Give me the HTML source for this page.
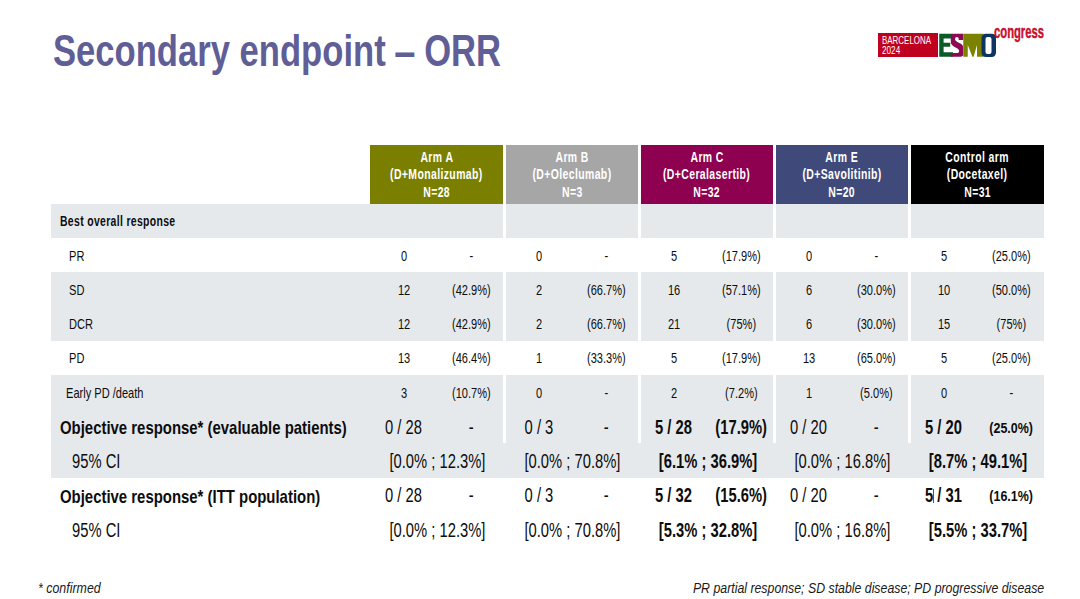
<!DOCTYPE html>
<html><head><meta charset="utf-8"><style>
html,body{margin:0;padding:0;}
body{width:1080px;height:599px;background:#fff;position:relative;overflow:hidden;font-family:"Liberation Sans", sans-serif;}
.t{position:absolute;white-space:nowrap;line-height:1;}
.t>span{display:inline-block;}
.r{position:absolute;}
</style></head><body>
<div class="r" style="left:51px;top:204.0px;width:992.6px;height:34.2px;background:#e6e9ec"></div>
<div class="r" style="left:51px;top:272.4px;width:992.6px;height:68.4px;background:#e6e9ec"></div>
<div class="r" style="left:51px;top:375.0px;width:992.6px;height:102.6px;background:#e6e9ec"></div>
<div class="r" style="left:503px;top:204.0px;width:2.5px;height:34.2px;background:#ffffff"></div>
<div class="r" style="left:638px;top:204.0px;width:2.5px;height:34.2px;background:#ffffff"></div>
<div class="r" style="left:773px;top:204.0px;width:2.5px;height:34.2px;background:#ffffff"></div>
<div class="r" style="left:908px;top:204.0px;width:2.5px;height:34.2px;background:#ffffff"></div>
<div class="r" style="left:503px;top:272.4px;width:2.5px;height:68.4px;background:#ffffff"></div>
<div class="r" style="left:638px;top:272.4px;width:2.5px;height:68.4px;background:#ffffff"></div>
<div class="r" style="left:773px;top:272.4px;width:2.5px;height:68.4px;background:#ffffff"></div>
<div class="r" style="left:908px;top:272.4px;width:2.5px;height:68.4px;background:#ffffff"></div>
<div class="r" style="left:503px;top:375.0px;width:2.5px;height:68.4px;background:#ffffff"></div>
<div class="r" style="left:638px;top:375.0px;width:2.5px;height:68.4px;background:#ffffff"></div>
<div class="r" style="left:773px;top:375.0px;width:2.5px;height:68.4px;background:#ffffff"></div>
<div class="r" style="left:908px;top:375.0px;width:2.5px;height:68.4px;background:#ffffff"></div>
<div class="r" style="left:370px;top:145px;width:133px;height:59px;background:#7a7f00"></div>
<div class="t" style="left:236.50px;width:400px;top:150.23px;font-size:14.5px;font-weight:bold;font-style:normal;color:#fff;text-align:center"><span style="transform:scaleX(0.72);transform-origin:center;letter-spacing:0.55px;margin-right:-0.55px">Arm A</span></div>
<div class="t" style="left:236.50px;width:400px;top:167.23px;font-size:14.5px;font-weight:bold;font-style:normal;color:#fff;text-align:center"><span style="transform:scaleX(0.72);transform-origin:center;letter-spacing:0.55px;margin-right:-0.55px">(D+Monalizumab)</span></div>
<div class="t" style="left:236.50px;width:400px;top:184.73px;font-size:14.5px;font-weight:bold;font-style:normal;color:#fff;text-align:center"><span style="transform:scaleX(0.72);transform-origin:center;letter-spacing:0.55px;margin-right:-0.55px">N=28</span></div>
<div class="r" style="left:505.5px;top:145px;width:132.5px;height:59px;background:#a6a6a6"></div>
<div class="t" style="left:371.75px;width:400px;top:150.23px;font-size:14.5px;font-weight:bold;font-style:normal;color:#fff;text-align:center"><span style="transform:scaleX(0.72);transform-origin:center;letter-spacing:0.55px;margin-right:-0.55px">Arm B</span></div>
<div class="t" style="left:371.75px;width:400px;top:167.23px;font-size:14.5px;font-weight:bold;font-style:normal;color:#fff;text-align:center"><span style="transform:scaleX(0.72);transform-origin:center;letter-spacing:0.55px;margin-right:-0.55px">(D+Oleclumab)</span></div>
<div class="t" style="left:371.75px;width:400px;top:184.73px;font-size:14.5px;font-weight:bold;font-style:normal;color:#fff;text-align:center"><span style="transform:scaleX(0.72);transform-origin:center;letter-spacing:0.55px;margin-right:-0.55px">N=3</span></div>
<div class="r" style="left:640.5px;top:145px;width:132.5px;height:59px;background:#8e0050"></div>
<div class="t" style="left:506.75px;width:400px;top:150.23px;font-size:14.5px;font-weight:bold;font-style:normal;color:#fff;text-align:center"><span style="transform:scaleX(0.72);transform-origin:center;letter-spacing:0.55px;margin-right:-0.55px">Arm C</span></div>
<div class="t" style="left:506.75px;width:400px;top:167.23px;font-size:14.5px;font-weight:bold;font-style:normal;color:#fff;text-align:center"><span style="transform:scaleX(0.72);transform-origin:center;letter-spacing:0.55px;margin-right:-0.55px">(D+Ceralasertib)</span></div>
<div class="t" style="left:506.75px;width:400px;top:184.73px;font-size:14.5px;font-weight:bold;font-style:normal;color:#fff;text-align:center"><span style="transform:scaleX(0.72);transform-origin:center;letter-spacing:0.55px;margin-right:-0.55px">N=32</span></div>
<div class="r" style="left:775.5px;top:145px;width:132.5px;height:59px;background:#3f4a7b"></div>
<div class="t" style="left:641.75px;width:400px;top:150.23px;font-size:14.5px;font-weight:bold;font-style:normal;color:#fff;text-align:center"><span style="transform:scaleX(0.72);transform-origin:center;letter-spacing:0.55px;margin-right:-0.55px">Arm E</span></div>
<div class="t" style="left:641.75px;width:400px;top:167.23px;font-size:14.5px;font-weight:bold;font-style:normal;color:#fff;text-align:center"><span style="transform:scaleX(0.72);transform-origin:center;letter-spacing:0.55px;margin-right:-0.55px">(D+Savolitinib)</span></div>
<div class="t" style="left:641.75px;width:400px;top:184.73px;font-size:14.5px;font-weight:bold;font-style:normal;color:#fff;text-align:center"><span style="transform:scaleX(0.72);transform-origin:center;letter-spacing:0.55px;margin-right:-0.55px">N=20</span></div>
<div class="r" style="left:910.5px;top:145px;width:133.1px;height:59px;background:#000000"></div>
<div class="t" style="left:777.05px;width:400px;top:150.23px;font-size:14.5px;font-weight:bold;font-style:normal;color:#fff;text-align:center"><span style="transform:scaleX(0.72);transform-origin:center;letter-spacing:0.55px;margin-right:-0.55px">Control arm</span></div>
<div class="t" style="left:777.05px;width:400px;top:167.23px;font-size:14.5px;font-weight:bold;font-style:normal;color:#fff;text-align:center"><span style="transform:scaleX(0.72);transform-origin:center;letter-spacing:0.55px;margin-right:-0.55px">(Docetaxel)</span></div>
<div class="t" style="left:777.05px;width:400px;top:184.73px;font-size:14.5px;font-weight:bold;font-style:normal;color:#fff;text-align:center"><span style="transform:scaleX(0.72);transform-origin:center;letter-spacing:0.55px;margin-right:-0.55px">N=31</span></div>
<div class="t" style="left:59.80px;top:214.23px;font-size:14.5px;font-weight:bold;font-style:normal;color:#0d0d0d;text-align:left"><span style="transform:scaleX(0.72);transform-origin:left;letter-spacing:0.46px">Best overall response</span></div>
<div class="t" style="left:68.80px;top:248.73px;font-size:14.5px;font-weight:normal;font-style:normal;color:#0d0d0d;text-align:left"><span style="transform:scaleX(0.763);transform-origin:left;">PR</span></div>
<div class="t" style="left:68.80px;top:282.93px;font-size:14.5px;font-weight:normal;font-style:normal;color:#0d0d0d;text-align:left"><span style="transform:scaleX(0.763);transform-origin:left;">SD</span></div>
<div class="t" style="left:68.80px;top:317.13px;font-size:14.5px;font-weight:normal;font-style:normal;color:#0d0d0d;text-align:left"><span style="transform:scaleX(0.763);transform-origin:left;">DCR</span></div>
<div class="t" style="left:68.80px;top:351.33px;font-size:14.5px;font-weight:normal;font-style:normal;color:#0d0d0d;text-align:left"><span style="transform:scaleX(0.763);transform-origin:left;">PD</span></div>
<div class="t" style="left:65.80px;top:385.53px;font-size:14.5px;font-weight:normal;font-style:normal;color:#0d0d0d;text-align:left"><span style="transform:scaleX(0.763);transform-origin:left;">Early PD /death</span></div>
<div class="t" style="left:204.30px;width:400px;top:248.73px;font-size:14.5px;font-weight:normal;font-style:normal;color:#0d0d0d;text-align:center"><span style="transform:scaleX(0.763);transform-origin:center;">0</span></div>
<div class="t" style="left:271.30px;width:400px;top:248.73px;font-size:14.5px;font-weight:normal;font-style:normal;color:#0d0d0d;text-align:center"><span style="transform:scaleX(0.763);transform-origin:center;">-</span></div>
<div class="t" style="left:339.30px;width:400px;top:248.73px;font-size:14.5px;font-weight:normal;font-style:normal;color:#0d0d0d;text-align:center"><span style="transform:scaleX(0.763);transform-origin:center;">0</span></div>
<div class="t" style="left:406.30px;width:400px;top:248.73px;font-size:14.5px;font-weight:normal;font-style:normal;color:#0d0d0d;text-align:center"><span style="transform:scaleX(0.763);transform-origin:center;">-</span></div>
<div class="t" style="left:474.30px;width:400px;top:248.73px;font-size:14.5px;font-weight:normal;font-style:normal;color:#0d0d0d;text-align:center"><span style="transform:scaleX(0.763);transform-origin:center;">5</span></div>
<div class="t" style="left:541.30px;width:400px;top:248.73px;font-size:14.5px;font-weight:normal;font-style:normal;color:#0d0d0d;text-align:center"><span style="transform:scaleX(0.763);transform-origin:center;">(17.9%)</span></div>
<div class="t" style="left:609.30px;width:400px;top:248.73px;font-size:14.5px;font-weight:normal;font-style:normal;color:#0d0d0d;text-align:center"><span style="transform:scaleX(0.763);transform-origin:center;">0</span></div>
<div class="t" style="left:676.30px;width:400px;top:248.73px;font-size:14.5px;font-weight:normal;font-style:normal;color:#0d0d0d;text-align:center"><span style="transform:scaleX(0.763);transform-origin:center;">-</span></div>
<div class="t" style="left:744.30px;width:400px;top:248.73px;font-size:14.5px;font-weight:normal;font-style:normal;color:#0d0d0d;text-align:center"><span style="transform:scaleX(0.763);transform-origin:center;">5</span></div>
<div class="t" style="left:811.30px;width:400px;top:248.73px;font-size:14.5px;font-weight:normal;font-style:normal;color:#0d0d0d;text-align:center"><span style="transform:scaleX(0.763);transform-origin:center;">(25.0%)</span></div>
<div class="t" style="left:204.30px;width:400px;top:282.93px;font-size:14.5px;font-weight:normal;font-style:normal;color:#0d0d0d;text-align:center"><span style="transform:scaleX(0.763);transform-origin:center;">12</span></div>
<div class="t" style="left:271.30px;width:400px;top:282.93px;font-size:14.5px;font-weight:normal;font-style:normal;color:#0d0d0d;text-align:center"><span style="transform:scaleX(0.763);transform-origin:center;">(42.9%)</span></div>
<div class="t" style="left:339.30px;width:400px;top:282.93px;font-size:14.5px;font-weight:normal;font-style:normal;color:#0d0d0d;text-align:center"><span style="transform:scaleX(0.763);transform-origin:center;">2</span></div>
<div class="t" style="left:406.30px;width:400px;top:282.93px;font-size:14.5px;font-weight:normal;font-style:normal;color:#0d0d0d;text-align:center"><span style="transform:scaleX(0.763);transform-origin:center;">(66.7%)</span></div>
<div class="t" style="left:474.30px;width:400px;top:282.93px;font-size:14.5px;font-weight:normal;font-style:normal;color:#0d0d0d;text-align:center"><span style="transform:scaleX(0.763);transform-origin:center;">16</span></div>
<div class="t" style="left:541.30px;width:400px;top:282.93px;font-size:14.5px;font-weight:normal;font-style:normal;color:#0d0d0d;text-align:center"><span style="transform:scaleX(0.763);transform-origin:center;">(57.1%)</span></div>
<div class="t" style="left:609.30px;width:400px;top:282.93px;font-size:14.5px;font-weight:normal;font-style:normal;color:#0d0d0d;text-align:center"><span style="transform:scaleX(0.763);transform-origin:center;">6</span></div>
<div class="t" style="left:676.30px;width:400px;top:282.93px;font-size:14.5px;font-weight:normal;font-style:normal;color:#0d0d0d;text-align:center"><span style="transform:scaleX(0.763);transform-origin:center;">(30.0%)</span></div>
<div class="t" style="left:744.30px;width:400px;top:282.93px;font-size:14.5px;font-weight:normal;font-style:normal;color:#0d0d0d;text-align:center"><span style="transform:scaleX(0.763);transform-origin:center;">10</span></div>
<div class="t" style="left:811.30px;width:400px;top:282.93px;font-size:14.5px;font-weight:normal;font-style:normal;color:#0d0d0d;text-align:center"><span style="transform:scaleX(0.763);transform-origin:center;">(50.0%)</span></div>
<div class="t" style="left:204.30px;width:400px;top:317.13px;font-size:14.5px;font-weight:normal;font-style:normal;color:#0d0d0d;text-align:center"><span style="transform:scaleX(0.763);transform-origin:center;">12</span></div>
<div class="t" style="left:271.30px;width:400px;top:317.13px;font-size:14.5px;font-weight:normal;font-style:normal;color:#0d0d0d;text-align:center"><span style="transform:scaleX(0.763);transform-origin:center;">(42.9%)</span></div>
<div class="t" style="left:339.30px;width:400px;top:317.13px;font-size:14.5px;font-weight:normal;font-style:normal;color:#0d0d0d;text-align:center"><span style="transform:scaleX(0.763);transform-origin:center;">2</span></div>
<div class="t" style="left:406.30px;width:400px;top:317.13px;font-size:14.5px;font-weight:normal;font-style:normal;color:#0d0d0d;text-align:center"><span style="transform:scaleX(0.763);transform-origin:center;">(66.7%)</span></div>
<div class="t" style="left:474.30px;width:400px;top:317.13px;font-size:14.5px;font-weight:normal;font-style:normal;color:#0d0d0d;text-align:center"><span style="transform:scaleX(0.763);transform-origin:center;">21</span></div>
<div class="t" style="left:541.30px;width:400px;top:317.13px;font-size:14.5px;font-weight:normal;font-style:normal;color:#0d0d0d;text-align:center"><span style="transform:scaleX(0.763);transform-origin:center;">(75%)</span></div>
<div class="t" style="left:609.30px;width:400px;top:317.13px;font-size:14.5px;font-weight:normal;font-style:normal;color:#0d0d0d;text-align:center"><span style="transform:scaleX(0.763);transform-origin:center;">6</span></div>
<div class="t" style="left:676.30px;width:400px;top:317.13px;font-size:14.5px;font-weight:normal;font-style:normal;color:#0d0d0d;text-align:center"><span style="transform:scaleX(0.763);transform-origin:center;">(30.0%)</span></div>
<div class="t" style="left:744.30px;width:400px;top:317.13px;font-size:14.5px;font-weight:normal;font-style:normal;color:#0d0d0d;text-align:center"><span style="transform:scaleX(0.763);transform-origin:center;">15</span></div>
<div class="t" style="left:811.30px;width:400px;top:317.13px;font-size:14.5px;font-weight:normal;font-style:normal;color:#0d0d0d;text-align:center"><span style="transform:scaleX(0.763);transform-origin:center;">(75%)</span></div>
<div class="t" style="left:204.30px;width:400px;top:351.33px;font-size:14.5px;font-weight:normal;font-style:normal;color:#0d0d0d;text-align:center"><span style="transform:scaleX(0.763);transform-origin:center;">13</span></div>
<div class="t" style="left:271.30px;width:400px;top:351.33px;font-size:14.5px;font-weight:normal;font-style:normal;color:#0d0d0d;text-align:center"><span style="transform:scaleX(0.763);transform-origin:center;">(46.4%)</span></div>
<div class="t" style="left:339.30px;width:400px;top:351.33px;font-size:14.5px;font-weight:normal;font-style:normal;color:#0d0d0d;text-align:center"><span style="transform:scaleX(0.763);transform-origin:center;">1</span></div>
<div class="t" style="left:406.30px;width:400px;top:351.33px;font-size:14.5px;font-weight:normal;font-style:normal;color:#0d0d0d;text-align:center"><span style="transform:scaleX(0.763);transform-origin:center;">(33.3%)</span></div>
<div class="t" style="left:474.30px;width:400px;top:351.33px;font-size:14.5px;font-weight:normal;font-style:normal;color:#0d0d0d;text-align:center"><span style="transform:scaleX(0.763);transform-origin:center;">5</span></div>
<div class="t" style="left:541.30px;width:400px;top:351.33px;font-size:14.5px;font-weight:normal;font-style:normal;color:#0d0d0d;text-align:center"><span style="transform:scaleX(0.763);transform-origin:center;">(17.9%)</span></div>
<div class="t" style="left:609.30px;width:400px;top:351.33px;font-size:14.5px;font-weight:normal;font-style:normal;color:#0d0d0d;text-align:center"><span style="transform:scaleX(0.763);transform-origin:center;">13</span></div>
<div class="t" style="left:676.30px;width:400px;top:351.33px;font-size:14.5px;font-weight:normal;font-style:normal;color:#0d0d0d;text-align:center"><span style="transform:scaleX(0.763);transform-origin:center;">(65.0%)</span></div>
<div class="t" style="left:744.30px;width:400px;top:351.33px;font-size:14.5px;font-weight:normal;font-style:normal;color:#0d0d0d;text-align:center"><span style="transform:scaleX(0.763);transform-origin:center;">5</span></div>
<div class="t" style="left:811.30px;width:400px;top:351.33px;font-size:14.5px;font-weight:normal;font-style:normal;color:#0d0d0d;text-align:center"><span style="transform:scaleX(0.763);transform-origin:center;">(25.0%)</span></div>
<div class="t" style="left:204.30px;width:400px;top:385.53px;font-size:14.5px;font-weight:normal;font-style:normal;color:#0d0d0d;text-align:center"><span style="transform:scaleX(0.763);transform-origin:center;">3</span></div>
<div class="t" style="left:271.30px;width:400px;top:385.53px;font-size:14.5px;font-weight:normal;font-style:normal;color:#0d0d0d;text-align:center"><span style="transform:scaleX(0.763);transform-origin:center;">(10.7%)</span></div>
<div class="t" style="left:339.30px;width:400px;top:385.53px;font-size:14.5px;font-weight:normal;font-style:normal;color:#0d0d0d;text-align:center"><span style="transform:scaleX(0.763);transform-origin:center;">0</span></div>
<div class="t" style="left:406.30px;width:400px;top:385.53px;font-size:14.5px;font-weight:normal;font-style:normal;color:#0d0d0d;text-align:center"><span style="transform:scaleX(0.763);transform-origin:center;">-</span></div>
<div class="t" style="left:474.30px;width:400px;top:385.53px;font-size:14.5px;font-weight:normal;font-style:normal;color:#0d0d0d;text-align:center"><span style="transform:scaleX(0.763);transform-origin:center;">2</span></div>
<div class="t" style="left:541.30px;width:400px;top:385.53px;font-size:14.5px;font-weight:normal;font-style:normal;color:#0d0d0d;text-align:center"><span style="transform:scaleX(0.763);transform-origin:center;">(7.2%)</span></div>
<div class="t" style="left:609.30px;width:400px;top:385.53px;font-size:14.5px;font-weight:normal;font-style:normal;color:#0d0d0d;text-align:center"><span style="transform:scaleX(0.763);transform-origin:center;">1</span></div>
<div class="t" style="left:676.30px;width:400px;top:385.53px;font-size:14.5px;font-weight:normal;font-style:normal;color:#0d0d0d;text-align:center"><span style="transform:scaleX(0.763);transform-origin:center;">(5.0%)</span></div>
<div class="t" style="left:744.30px;width:400px;top:385.53px;font-size:14.5px;font-weight:normal;font-style:normal;color:#0d0d0d;text-align:center"><span style="transform:scaleX(0.763);transform-origin:center;">0</span></div>
<div class="t" style="left:811.30px;width:400px;top:385.53px;font-size:14.5px;font-weight:normal;font-style:normal;color:#0d0d0d;text-align:center"><span style="transform:scaleX(0.763);transform-origin:center;">-</span></div>
<div class="t" style="left:59.50px;top:418.22px;font-size:19px;font-weight:bold;font-style:normal;color:#0d0d0d;text-align:left"><span style="transform:scaleX(0.785);transform-origin:left;">Objective response* (evaluable patients)</span></div>
<div class="t" style="left:72.40px;top:452.29px;font-size:19.5px;font-weight:normal;font-style:normal;color:#0d0d0d;text-align:left"><span style="transform:scaleX(0.757);transform-origin:left;">95% CI</span></div>
<div class="t" style="left:59.50px;top:486.62px;font-size:19px;font-weight:bold;font-style:normal;color:#0d0d0d;text-align:left"><span style="transform:scaleX(0.785);transform-origin:left;">Objective response* (ITT population)</span></div>
<div class="t" style="left:72.40px;top:520.69px;font-size:19.5px;font-weight:normal;font-style:normal;color:#0d0d0d;text-align:left"><span style="transform:scaleX(0.757);transform-origin:left;">95% CI</span></div>
<div class="t" style="left:203.50px;width:400px;top:417.79px;font-size:19.5px;font-weight:normal;font-style:normal;color:#0d0d0d;text-align:center"><span style="transform:scaleX(0.757);transform-origin:center;">0 / 28</span></div>
<div class="t" style="left:271.20px;width:400px;top:417.79px;font-size:19.5px;font-weight:normal;font-style:normal;color:#0d0d0d;text-align:center"><span style="transform:scaleX(0.757);transform-origin:center;">-</span></div>
<div class="t" style="left:338.50px;width:400px;top:417.79px;font-size:19.5px;font-weight:normal;font-style:normal;color:#0d0d0d;text-align:center"><span style="transform:scaleX(0.757);transform-origin:center;">0 / 3</span></div>
<div class="t" style="left:406.20px;width:400px;top:417.79px;font-size:19.5px;font-weight:normal;font-style:normal;color:#0d0d0d;text-align:center"><span style="transform:scaleX(0.757);transform-origin:center;">-</span></div>
<div class="t" style="left:473.50px;width:400px;top:417.79px;font-size:19.5px;font-weight:bold;font-style:normal;color:#0d0d0d;text-align:center"><span style="transform:scaleX(0.757);transform-origin:center;">5 / 28</span></div>
<div class="t" style="left:541.20px;width:400px;top:417.79px;font-size:19.5px;font-weight:bold;font-style:normal;color:#0d0d0d;text-align:center"><span style="transform:scaleX(0.757);transform-origin:center;">(17.9%)</span></div>
<div class="t" style="left:608.50px;width:400px;top:417.79px;font-size:19.5px;font-weight:normal;font-style:normal;color:#0d0d0d;text-align:center"><span style="transform:scaleX(0.757);transform-origin:center;">0 / 20</span></div>
<div class="t" style="left:676.20px;width:400px;top:417.79px;font-size:19.5px;font-weight:normal;font-style:normal;color:#0d0d0d;text-align:center"><span style="transform:scaleX(0.757);transform-origin:center;">-</span></div>
<div class="t" style="left:743.50px;width:400px;top:417.79px;font-size:19.5px;font-weight:bold;font-style:normal;color:#0d0d0d;text-align:center"><span style="transform:scaleX(0.757);transform-origin:center;">5 / 20</span></div>
<div class="t" style="left:811.00px;width:400px;top:419.98px;font-size:15.5px;font-weight:bold;font-style:normal;color:#0d0d0d;text-align:center"><span style="transform:scaleX(0.805);transform-origin:center;">(25.0%)</span></div>
<div class="t" style="left:203.50px;width:400px;top:486.19px;font-size:19.5px;font-weight:normal;font-style:normal;color:#0d0d0d;text-align:center"><span style="transform:scaleX(0.757);transform-origin:center;">0 / 28</span></div>
<div class="t" style="left:271.20px;width:400px;top:486.19px;font-size:19.5px;font-weight:normal;font-style:normal;color:#0d0d0d;text-align:center"><span style="transform:scaleX(0.757);transform-origin:center;">-</span></div>
<div class="t" style="left:338.50px;width:400px;top:486.19px;font-size:19.5px;font-weight:normal;font-style:normal;color:#0d0d0d;text-align:center"><span style="transform:scaleX(0.757);transform-origin:center;">0 / 3</span></div>
<div class="t" style="left:406.20px;width:400px;top:486.19px;font-size:19.5px;font-weight:normal;font-style:normal;color:#0d0d0d;text-align:center"><span style="transform:scaleX(0.757);transform-origin:center;">-</span></div>
<div class="t" style="left:473.50px;width:400px;top:486.19px;font-size:19.5px;font-weight:bold;font-style:normal;color:#0d0d0d;text-align:center"><span style="transform:scaleX(0.757);transform-origin:center;">5 / 32</span></div>
<div class="t" style="left:541.20px;width:400px;top:486.19px;font-size:19.5px;font-weight:bold;font-style:normal;color:#0d0d0d;text-align:center"><span style="transform:scaleX(0.757);transform-origin:center;">(15.6%)</span></div>
<div class="t" style="left:608.50px;width:400px;top:486.19px;font-size:19.5px;font-weight:normal;font-style:normal;color:#0d0d0d;text-align:center"><span style="transform:scaleX(0.757);transform-origin:center;">0 / 20</span></div>
<div class="t" style="left:676.20px;width:400px;top:486.19px;font-size:19.5px;font-weight:normal;font-style:normal;color:#0d0d0d;text-align:center"><span style="transform:scaleX(0.757);transform-origin:center;">-</span></div>
<div class="t" style="left:743.50px;width:400px;top:486.19px;font-size:19.5px;font-weight:bold;font-style:normal;color:#0d0d0d;text-align:center"><span style="transform:scaleX(0.757);transform-origin:center;">5 / 31</span></div>
<div class="t" style="left:811.00px;width:400px;top:488.38px;font-size:15.5px;font-weight:bold;font-style:normal;color:#0d0d0d;text-align:center"><span style="transform:scaleX(0.805);transform-origin:center;">(16.1%)</span></div>
<div class="t" style="left:237.80px;width:400px;top:452.29px;font-size:19.5px;font-weight:normal;font-style:normal;color:#0d0d0d;text-align:center"><span style="transform:scaleX(0.757);transform-origin:center;">[0.0% ; 12.3%]</span></div>
<div class="t" style="left:372.80px;width:400px;top:452.29px;font-size:19.5px;font-weight:normal;font-style:normal;color:#0d0d0d;text-align:center"><span style="transform:scaleX(0.757);transform-origin:center;">[0.0% ; 70.8%]</span></div>
<div class="t" style="left:507.80px;width:400px;top:452.29px;font-size:19.5px;font-weight:bold;font-style:normal;color:#0d0d0d;text-align:center"><span style="transform:scaleX(0.757);transform-origin:center;">[6.1% ; 36.9%]</span></div>
<div class="t" style="left:642.80px;width:400px;top:452.29px;font-size:19.5px;font-weight:normal;font-style:normal;color:#0d0d0d;text-align:center"><span style="transform:scaleX(0.757);transform-origin:center;">[0.0% ; 16.8%]</span></div>
<div class="t" style="left:777.80px;width:400px;top:452.29px;font-size:19.5px;font-weight:bold;font-style:normal;color:#0d0d0d;text-align:center"><span style="transform:scaleX(0.757);transform-origin:center;">[8.7% ; 49.1%]</span></div>
<div class="t" style="left:237.80px;width:400px;top:520.69px;font-size:19.5px;font-weight:normal;font-style:normal;color:#0d0d0d;text-align:center"><span style="transform:scaleX(0.757);transform-origin:center;">[0.0% ; 12.3%]</span></div>
<div class="t" style="left:372.80px;width:400px;top:520.69px;font-size:19.5px;font-weight:normal;font-style:normal;color:#0d0d0d;text-align:center"><span style="transform:scaleX(0.757);transform-origin:center;">[0.0% ; 70.8%]</span></div>
<div class="t" style="left:507.80px;width:400px;top:520.69px;font-size:19.5px;font-weight:bold;font-style:normal;color:#0d0d0d;text-align:center"><span style="transform:scaleX(0.757);transform-origin:center;">[5.3% ; 32.8%]</span></div>
<div class="t" style="left:642.80px;width:400px;top:520.69px;font-size:19.5px;font-weight:normal;font-style:normal;color:#0d0d0d;text-align:center"><span style="transform:scaleX(0.757);transform-origin:center;">[0.0% ; 16.8%]</span></div>
<div class="t" style="left:777.80px;width:400px;top:520.69px;font-size:19.5px;font-weight:bold;font-style:normal;color:#0d0d0d;text-align:center"><span style="transform:scaleX(0.757);transform-origin:center;">[5.5% ; 33.7%]</span></div>
<div class="r" style="left:933px;top:488.5px;width:1px;height:14px;background:#555"></div>
<div class="t" style="left:52.50px;top:29.45px;font-size:44px;font-weight:bold;font-style:normal;color:#5f5e96;text-align:left"><span style="transform:scaleX(0.7866);transform-origin:left;">Secondary endpoint <span style="display:inline-block;position:relative;top:1px;transform:scaleX(1.1)">–</span> ORR</span></div>
<div class="t" style="left:37.80px;top:580.75px;font-size:14px;font-weight:normal;font-style:italic;color:#1a1a1a;text-align:left"><span style="transform:scaleX(0.885);transform-origin:left;">* confirmed</span></div>
<div class="t" style="left:644.00px;width:400px;top:580.75px;font-size:14px;font-weight:normal;font-style:italic;color:#1a1a1a;text-align:right"><span style="transform:scaleX(0.88);transform-origin:right;">PR partial response; SD stable disease; PD progressive disease</span></div>
<div class="r" style="left:878px;top:33.4px;width:60px;height:23.7px;background:#c0001f"></div>
<div class="t" style="left:881.60px;top:35.40px;font-size:10.75px;font-weight:normal;font-style:normal;color:#fff;text-align:left"><span style="transform:scaleX(0.74);transform-origin:left;">BARCELONA</span></div>
<div class="t" style="left:881.60px;top:44.80px;font-size:10.75px;font-weight:normal;font-style:normal;color:#fff;text-align:left"><span style="transform:scaleX(0.76);transform-origin:left;">2024</span></div>
<svg class="r" style="left:0;top:0" width="1080" height="80" viewBox="0 0 1080 80">
<path fill="#0b5a27" d="M939.25,33.75 L953,33.75 L953,38.6 L943.6,38.6 L943.6,42.75 L950.25,42.75 L950.25,46.75 L943.6,46.75 L943.6,52.25 L953,52.25 L953,56.75 L939.25,56.75 Z"/>
<path fill="#8c0a52" d="M954,33.8 L963.2,33.8 L963.2,39.9 L958.7,39.9 L958.7,38.8 Q958.7,37.1 956.9,37.1 Q955,37.1 955,39.2 Q955,40.6 957,41.7 L961.3,44.1 Q963.2,45.3 963.2,47.6 L963.2,54 Q963.2,56.75 960.5,56.75 L950.8,56.75 L950.8,53 L957.3,53 Q959.2,53 959.2,51.1 Q959.2,49.7 957.4,48.6 L953,46.1 Q950.8,44.7 950.8,42.2 L950.8,37 Q950.8,33.8 954,33.8 Z"/>
<path fill="#7b8200" d="M963.25,33.75 L983.5,33.75 L983.5,56.75 L977,56.75 L977,45 L973.6,56.75 L972.4,56.75 L967.75,45 L967.75,56.75 L963.25,56.75 Z"/>
<path fill="#0e3562" fill-rule="evenodd" d="M986,33.75 L991.5,33.75 Q996,33.75 996,38.5 L996,52.3 Q996,57 991.5,57 L986,57 Q981.5,57 981.5,52.3 L981.5,38.5 Q981.5,33.75 986,33.75 Z M987.6,37 Q985.5,37 985.5,39 L985.5,52 Q985.5,54 987.6,54 L989.4,54 Q991.5,54 991.5,52 L991.5,39 Q991.5,37 989.4,37 Z"/>
</svg>
<div class="t" style="left:993.80px;top:23.16px;font-size:18px;font-weight:bold;font-style:normal;color:#c8102e;text-align:left"><span style="transform:scaleX(0.625);transform-origin:left;-webkit-text-stroke:0.45px #c8102e">congress</span></div>
</body></html>
